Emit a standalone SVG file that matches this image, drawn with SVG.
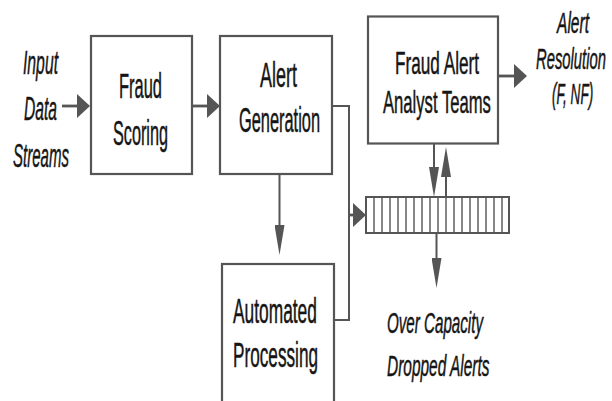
<svg xmlns="http://www.w3.org/2000/svg" width="612" height="401" viewBox="0 0 612 401">
<defs>
<style>
.box{fill:#fff;stroke:#555;stroke-width:2.2}
.t{font-family:"Liberation Sans",Arial,sans-serif;fill:#151515;stroke:#151515;stroke-width:0.5}
.it{font-style:italic}
.h{fill:none;stroke:#555;stroke-width:2.8}
.v{fill:none;stroke:#555;stroke-width:2}
.q{fill:#fff;stroke:#555;stroke-width:2}
.qd{stroke:#555;stroke-width:1.4}
</style>
<marker id="ah" markerUnits="userSpaceOnUse" viewBox="0 0 13 24" refX="4" refY="12" markerWidth="13" markerHeight="24" orient="auto">
<path d="M0,0 L13,12 L0,24 Z" fill="#555"/>
</marker>
<marker id="av" markerUnits="userSpaceOnUse" viewBox="0 0 30 10" refX="8" refY="5" markerWidth="30" markerHeight="10" orient="auto">
<path d="M0,0 L30,5 L0,10 Z" fill="#555"/>
</marker>
</defs>
<rect width="612" height="401" fill="#fff"/>

<g id="connectors">
<path class="h" d="M62,106 H81" marker-end="url(#ah)"/>
<path class="h" d="M192,106 H211" marker-end="url(#ah)"/>
<path class="v" d="M332,106 H349 V320 H334"/>
<path class="h" d="M349,215 H357" marker-end="url(#ah)"/>
<path class="v" d="M279.5,174 V233" marker-end="url(#av)"/>
<path class="h" d="M498,76 H518" marker-end="url(#ah)"/>
<path class="v" d="M434,144 V175" marker-end="url(#av)"/>
<path class="v" d="M446,197 V169" marker-end="url(#av)"/>
<path class="v" d="M436.5,233 V266" marker-end="url(#av)"/>
</g>

<g id="input">
<text class="t it" font-size="34" transform="translate(23,74) scale(0.463,1)">Input</text>
<text class="t it" font-size="34" transform="translate(24,120) scale(0.46,1)">Data</text>
<text class="t it" font-size="34" transform="translate(13,167) scale(0.442,1)">Streams</text>
</g>

<g id="fraud-scoring">
<rect class="box" x="91" y="36" width="101" height="138"/>
<text class="t" font-size="35" transform="translate(119,98) scale(0.47,1)">Fraud</text>
<text class="t" font-size="35" transform="translate(113,145) scale(0.464,1)">Scoring</text>
</g>

<g id="alert-generation">
<rect class="box" x="220" y="36" width="112" height="138"/>
<text class="t" font-size="35" transform="translate(260,87) scale(0.514,1)">Alert</text>
<text class="t" font-size="35" transform="translate(239,132) scale(0.468,1)">Generation</text>
</g>

<g id="automated-processing">
<rect class="box" x="222" y="264" width="112" height="142"/>
<text class="t" font-size="35" transform="translate(233,323) scale(0.496,1)">Automated</text>
<text class="t" font-size="35" transform="translate(233,367) scale(0.491,1)">Processing</text>
</g>

<g id="analyst-teams">
<rect class="box" x="368" y="16.5" width="130" height="127"/>
<text class="t" font-size="32" transform="translate(395,74) scale(0.537,1)">Fraud Alert</text>
<text class="t" font-size="32" transform="translate(383,113) scale(0.52,1)">Analyst Teams</text>
</g>

<g id="queue">
<rect class="q" x="366" y="197" width="143" height="36"/>
<path class="qd" d="M374,197V233M382,197V233M390,197V233M398,197V233M406,197V233M414,197V233M422,197V233M430,197V233M438,197V233M446,197V233M454,197V233M462,197V233M470,197V233M478,197V233M486,197V233M494,197V233M502,197V233"/>
</g>

<g id="alert-resolution">
<text class="t it" font-size="29" transform="translate(557,33) scale(0.537,1)">Alert</text>
<text class="t it" font-size="29" transform="translate(536,69) scale(0.511,1)">Resolution</text>
<text class="t it" font-size="29" transform="translate(552,104) scale(0.468,1)">(F, NF)</text>
</g>

<g id="dropped-alerts">
<text class="t it" font-size="29" transform="translate(387,333) scale(0.523,1)">Over Capacity</text>
<text class="t it" font-size="29" transform="translate(387,376) scale(0.533,1)">Dropped Alerts</text>
</g>
</svg>
